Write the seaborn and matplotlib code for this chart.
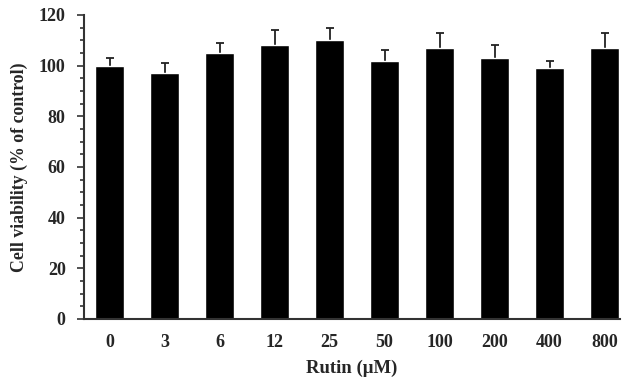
import numpy as np
import pandas as pd
import seaborn as sns
import matplotlib.pyplot as plt
from matplotlib.ticker import MultipleLocator

# rutin concentrations and viability (% of control), upper SD only
conc = ['0', '3', '6', '12', '25', '50', '100', '200', '400', '800']
viability = [100, 97, 105, 108, 110, 102, 107, 103, 99, 107]
sd = [3, 4, 4, 6, 5, 4, 6, 5, 3, 6]

df = pd.DataFrame({'conc': conc, 'viability': viability})

sns.set_style('white')
plt.rcParams['font.family'] = ['Liberation Serif', 'DejaVu Serif']
plt.rcParams['font.weight'] = 'bold'

fig = plt.figure(figsize=(6.3, 3.82), dpi=100)
ax = fig.add_axes([0.133, 0.165, 0.851, 0.796])

sns.barplot(data=df, x='conc', y='viability', order=conc, color='black',
            width=0.53, saturation=1, errorbar=None, ax=ax, zorder=3)
# error bars sit behind the bars so only the upper half shows
ax.errorbar(np.arange(len(conc)), viability, yerr=sd,
            fmt='none', ecolor='#222222', elinewidth=1.3, capsize=3,
            capthick=1.3, zorder=1)

ax.set_ylim(0, 120)
ax.set_xlim(-0.47, 9.28)
ax.yaxis.set_major_locator(MultipleLocator(20))
ax.yaxis.set_minor_locator(MultipleLocator(5))
ax.tick_params(axis='y', which='major', direction='out', length=5, width=1.2,
               color='#333333', left=True, pad=8, labelsize=13)
ax.tick_params(axis='y', which='minor', direction='out', length=3, width=1.2,
               color='#333333', left=True)
ax.tick_params(axis='x', length=0, pad=11, labelsize=13)

for s in ['top', 'right']:
    ax.spines[s].set_visible(False)
for s in ['left', 'bottom']:
    ax.spines[s].set_linewidth(1.5)
    ax.spines[s].set_color('#333333')
    ax.spines[s].set_zorder(4)

ax.set_xlabel('Rutin (μM)', fontsize=13.5, fontweight='bold', labelpad=6)
ax.set_ylabel('Cell viability (% of control)', fontsize=12.8, fontweight='bold', labelpad=8)

fig.savefig('out.png', dpi=100)
